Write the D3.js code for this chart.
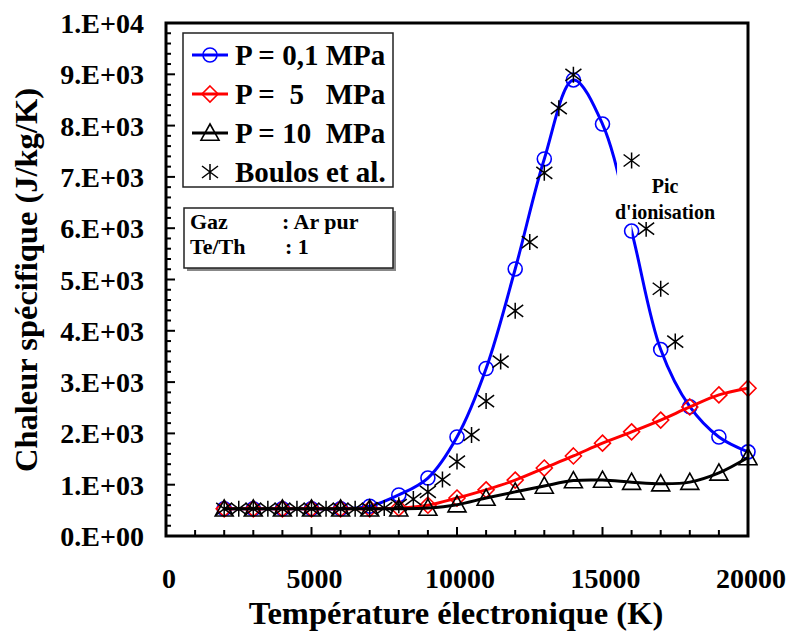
<!DOCTYPE html>
<html><head><meta charset="utf-8">
<script src="https://cdn.jsdelivr.net/npm/d3@7"></script>
<style>body{margin:0;background:#fff}svg{display:block}</style>
</head><body>
<svg id="c" width="787" height="641"></svg>
<script>
// ---------- data ----------
const temps = [2000,3000,4000,5000,6000,7000,8000,9000,10000,11000,12000,13000,14000,15000,16000,17000,18000,19000,20000];
const cpP01 = [530,530,530,530,530,580,800,1130,1930,3265,5205,7350,8890,8030,5945,3635,2520,1930,1640];
const cpP5  = [530,530,530,530,530,530,545,600,740,900,1090,1325,1560,1810,2030,2260,2515,2750,2880];
const cpP10 = [530,530,530,530,530,530,530,545,610,740,860,975,1080,1090,1050,1020,1050,1230,1530];
const boulosT  = [2000,2500,3000,3500,4000,4500,5000,5500,6000,6500,7000,7500,8000,8500,9000,9500,10000,10500,11000,11500,12000,12500,13000,13500,14000,16000,16500,17000,17500];
const boulosCp = [530,530,530,530,530,530,530,530,530,530,530,545,600,720,860,1100,1450,1970,2630,3400,4390,5730,7080,8340,8990,7320,5990,4820,3790];
const blueGap = [15500, 16000];
const xTicks = [0,5000,10000,15000,20000];
const yTicks = [0,1000,2000,3000,4000,5000,6000,7000,8000,9000,10000];
const yTickLabels = ["0.E+00","1.E+03","2.E+03","3.E+03","4.E+03","5.E+03","6.E+03","7.E+03","8.E+03","9.E+03","1.E+04"];
const legendLabels = ["P = 0,1 MPa","P =  5   MPa","P = 10  MPa","Boulos et al."];
const infoLines = [["Gaz",": Ar pur"],["Te/Th",": 1"]];
const annotation = ["Pic","d'ionisation"];

// ---------- layout ----------
const svg = d3.select("#c");
const L=166, R=748, T=23, B=536;
const x = d3.scaleLinear().domain([0,20000]).range([L,R]);
const y = d3.scaleLinear().domain([0,10000]).range([B,T]);
const font = "'Liberation Serif','Times New Roman',serif";

svg.append("rect").attr("width",787).attr("height",641).attr("fill","#fff");

// clip paths
const defs = svg.append("defs");
defs.append("clipPath").attr("id","plot").append("rect").attr("x",L).attr("y",T).attr("width",R-L+10).attr("height",B-T);
const gapClip = defs.append("clipPath").attr("id","gap");
gapClip.append("rect").attr("x",L).attr("y",T).attr("width",x(blueGap[0])-L).attr("height",B-T);
gapClip.append("rect").attr("x",x(blueGap[1])).attr("y",T).attr("width",R+10-x(blueGap[1])).attr("height",B-T);

// ticks (inward)
const axG = svg.append("g").attr("stroke","#000").attr("stroke-width",2);
d3.range(0,20001,1000).forEach(v=>{
  const len = v%5000===0 ? 9 : 6;
  axG.append("line").attr("x1",x(v)).attr("x2",x(v)).attr("y1",B).attr("y2",B-len);
});
d3.range(0,10001,200).forEach(v=>{
  const len = v%1000===0 ? 9 : 5;
  axG.append("line").attr("y1",y(v)).attr("y2",y(v)).attr("x1",L).attr("x2",L+len);
});

// tick labels
svg.append("g").selectAll("text").data(xTicks).join("text")
  .attr("x",d=>x(d)+3).attr("y",B+52).attr("text-anchor","middle")
  .attr("font-family",font).attr("font-weight","bold").attr("font-size",28)
  .text(d=>d);
svg.append("g").selectAll("text").data(yTicks).join("text")
  .attr("x",144).attr("y",d=>y(d)+10).attr("text-anchor","end")
  .attr("font-family",font).attr("font-weight","bold").attr("font-size",28)
  .text((d,i)=>yTickLabels[i]);

// axis titles
svg.append("text").attr("x",456).attr("y",624).attr("text-anchor","middle")
  .attr("font-family",font).attr("font-weight","bold").attr("font-size",32.5)
  .text("Température électronique (K)");
svg.append("text").attr("transform","translate(37,280) rotate(-90)").attr("text-anchor","middle")
  .attr("font-family",font).attr("font-weight","bold").attr("font-size",32.5)
  .text("Chaleur spécifique (J/kg/K)");

// ---------- series ----------
const line = d3.line().x(d=>x(d[0])).y(d=>y(d[1])).curve(d3.curveCatmullRom.alpha(0.5));
const plot = svg.append("g").attr("clip-path","url(#plot)");

function circle(g,cx,cy,col){g.append("circle").attr("cx",cx).attr("cy",cy).attr("r",7).attr("fill","none").attr("stroke",col).attr("stroke-width",1.6);}
function diamond(g,cx,cy,col){const s=8;g.append("path").attr("d",`M${cx},${cy-s}L${cx+s},${cy}L${cx},${cy+s}L${cx-s},${cy}Z`).attr("fill","none").attr("stroke",col).attr("stroke-width",1.6);}
function triangle(g,cx,cy,col){const s=9;g.append("path").attr("d",`M${cx},${cy-s}L${cx+s},${cy+s*0.8}L${cx-s},${cy+s*0.8}Z`).attr("fill","none").attr("stroke",col).attr("stroke-width",1.6);}
function star(g,cx,cy,col){const r=8;const d=`M${cx},${cy-r}L${cx},${cy+r}M${cx-r},${cy-r*0.75}L${cx+r},${cy+r*0.75}M${cx-r},${cy+r*0.75}L${cx+r},${cy-r*0.75}`;g.append("path").attr("d",d).attr("stroke",col).attr("stroke-width",1.5).attr("fill","none");}

const series = [
  {vals:cpP01,col:"#0000ff",mk:circle,clip:true},
  {vals:cpP5,col:"#ff0000",mk:diamond},
  {vals:cpP10,col:"#000000",mk:triangle}
];
series.forEach(s=>{
  const pts = temps.map((t,i)=>[t,s.vals[i]]);
  const g = plot.append("g");
  g.append("path").attr("d",line(pts)).attr("fill","none").attr("stroke",s.col).attr("stroke-width",3)
    .attr("clip-path",s.clip?"url(#gap)":null);
  pts.forEach(p=>s.mk(g,x(p[0]),y(p[1]),s.col));
});
const sg = plot.append("g");
boulosT.forEach((t,i)=>star(sg,x(t),y(boulosCp[i]),"#000"));

// annotation with white background
const ann = svg.append("g");
ann.append("rect").attr("x",612).attr("y",178).attr("width",106).attr("height",44).attr("fill","#fff");
annotation.forEach((t,i)=>ann.append("text").attr("x",665).attr("y",193+i*26).attr("text-anchor","middle")
  .attr("font-family",font).attr("font-weight","bold").attr("font-size",20).text(t));

// frame
svg.append("rect").attr("x",L).attr("y",T).attr("width",R-L).attr("height",B-T)
  .attr("fill","none").attr("stroke","#000").attr("stroke-width",3);

// legend
const lg = svg.append("g");
lg.append("rect").attr("x",183).attr("y",33).attr("width",210).attr("height",154).attr("fill","#fff").attr("stroke","#222").attr("stroke-width",1.5);
const mkrs=[circle,diamond,triangle,star], cols=["#0000ff","#ff0000","#000000","#000000"];
legendLabels.forEach((lab,i)=>{
  const cy = 55+i*39;
  if(i<3) lg.append("line").attr("x1",192).attr("x2",228).attr("y1",cy).attr("y2",cy).attr("stroke",cols[i]).attr("stroke-width",3);
  mkrs[i](lg,210,cy,cols[i]);
  lg.append("text").attr("x",235).attr("y",cy+10).attr("font-family",font).attr("font-weight","bold")
    .attr("font-size",29).attr("xml:space","preserve").style("white-space","pre").text(lab);
});

// info box
const ib = svg.append("g");
ib.append("rect").attr("x",187).attr("y",211).attr("width",209).attr("height",60).attr("fill","#888");
ib.append("rect").attr("x",184).attr("y",208).attr("width",209).attr("height",60).attr("fill","#fff").attr("stroke","#222").attr("stroke-width",1.5);
infoLines.forEach((ln,i)=>{
  ib.append("text").attr("x",190).attr("y",229+i*25).attr("font-family",font).attr("font-weight","bold").attr("font-size",22).text(ln[0]);
  ib.append("text").attr("x",i===0?282:285).attr("y",229+i*25).attr("font-family",font).attr("font-weight","bold").attr("font-size",22).text(ln[1]);
});
</script>
</body></html>
